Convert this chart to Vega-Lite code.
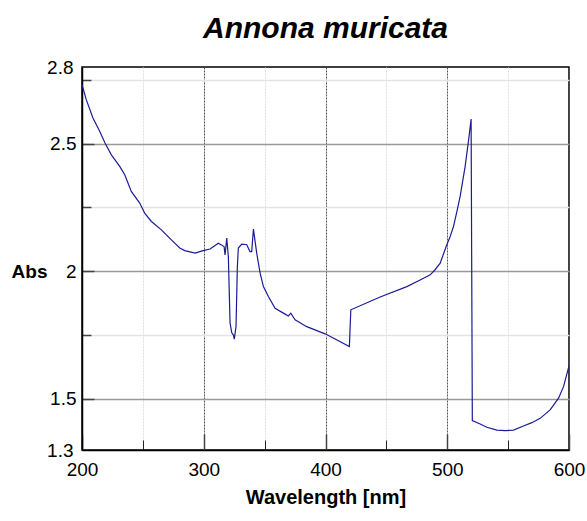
{
  "$schema": "https://vega.github.io/schema/vega-lite/v6.json",
  "autosize": "none",
  "width": 487,
  "height": 383,
  "padding": {"left": 82, "top": 67, "right": 18, "bottom": 71},
  "background": "white",
  "title": {"text": "Annona muricata", "font": "Liberation Sans", "fontSize": 30, "fontWeight": "bold", "fontStyle": "italic", "color": "black", "offset": 14, "anchor": "middle"},
  "config": {"view": {"stroke": "black", "strokeWidth": 1.5}},
  "data": {"values": [
    {"wl": 200, "abs": 2.731}, {"wl": 203.5, "abs": 2.672}, {"wl": 209, "abs": 2.600}, {"wl": 214.5, "abs": 2.548},
    {"wl": 218.9, "abs": 2.502}, {"wl": 224.1, "abs": 2.456}, {"wl": 231, "abs": 2.411}, {"wl": 235.1, "abs": 2.378},
    {"wl": 240.5, "abs": 2.313}, {"wl": 247.4, "abs": 2.267}, {"wl": 251.5, "abs": 2.228}, {"wl": 257, "abs": 2.195},
    {"wl": 265.2, "abs": 2.162}, {"wl": 273.4, "abs": 2.123}, {"wl": 280.3, "abs": 2.091}, {"wl": 284.4, "abs": 2.081},
    {"wl": 292.9, "abs": 2.071}, {"wl": 299.4, "abs": 2.081}, {"wl": 305.2, "abs": 2.087}, {"wl": 312, "abs": 2.110},
    {"wl": 316.7, "abs": 2.097}, {"wl": 317.5, "abs": 2.064}, {"wl": 318.9, "abs": 2.130}, {"wl": 320.2, "abs": 2.058},
    {"wl": 321.6, "abs": 1.798}, {"wl": 323, "abs": 1.759}, {"wl": 324.3, "abs": 1.751}, {"wl": 325.1, "abs": 1.734},
    {"wl": 326.5, "abs": 1.783}, {"wl": 327.6, "abs": 2.018}, {"wl": 328.4, "abs": 2.091}, {"wl": 331.2, "abs": 2.106},
    {"wl": 335.3, "abs": 2.104}, {"wl": 338, "abs": 2.077}, {"wl": 339.4, "abs": 2.077}, {"wl": 340.8, "abs": 2.165},
    {"wl": 343.5, "abs": 2.071}, {"wl": 346.3, "abs": 1.993}, {"wl": 349, "abs": 1.940}, {"wl": 353.1, "abs": 1.901},
    {"wl": 358.6, "abs": 1.855}, {"wl": 365.4, "abs": 1.836}, {"wl": 369.5, "abs": 1.825}, {"wl": 371.5, "abs": 1.836},
    {"wl": 375, "abs": 1.810}, {"wl": 384.6, "abs": 1.783}, {"wl": 399.7, "abs": 1.755}, {"wl": 419.6, "abs": 1.705},
    {"wl": 420.8, "abs": 1.849}, {"wl": 444.9, "abs": 1.899}, {"wl": 466.8, "abs": 1.940}, {"wl": 477.7, "abs": 1.966},
    {"wl": 486, "abs": 1.986}, {"wl": 490, "abs": 2.006}, {"wl": 494.2, "abs": 2.032}, {"wl": 499.1, "abs": 2.097},
    {"wl": 502.4, "abs": 2.136}, {"wl": 505.1, "abs": 2.175}, {"wl": 507.9, "abs": 2.234}, {"wl": 510.6, "abs": 2.293},
    {"wl": 514.7, "abs": 2.411}, {"wl": 517.4, "abs": 2.509}, {"wl": 519.6, "abs": 2.596}, {"wl": 520.6, "abs": 1.415},
    {"wl": 527, "abs": 1.402}, {"wl": 532.5, "abs": 1.389}, {"wl": 540.8, "abs": 1.378}, {"wl": 547.6, "abs": 1.376},
    {"wl": 554.4, "abs": 1.378}, {"wl": 562.6, "abs": 1.394}, {"wl": 569.5, "abs": 1.407}, {"wl": 576.3, "abs": 1.424},
    {"wl": 584.5, "abs": 1.457}, {"wl": 591.4, "abs": 1.503}, {"wl": 595.5, "abs": 1.548}, {"wl": 600, "abs": 1.629}
  ]},
  "mark": {"type": "line", "color": "#1c1c96", "strokeWidth": 1.2, "clip": true},
  "encoding": {
    "x": {
      "field": "wl", "type": "quantitative",
      "scale": {"domain": [200, 600], "nice": false, "zero": false},
      "axis": {
        "title": "Wavelength [nm]",
        "titleFont": "Liberation Sans", "titleFontSize": 20, "titleFontWeight": "bold", "titleColor": "black", "titlePadding": 8,
        "values": [200, 250, 300, 350, 400, 450, 500, 550, 600],
        "labelExpr": "datum.value % 100 === 0 ? datum.label : ''",
        "labelFont": "Liberation Sans", "labelFontSize": 19, "labelColor": "black", "labelPadding": 26, "labelFlush": false,
        "domainColor": "black", "domainWidth": 1.5,
        "tickSize": {"condition": {"test": "datum.value % 100 === 0", "value": -16}, "value": -10},
        "tickColor": {"condition": {"test": "datum.value % 100 === 0", "value": "#444"}, "value": "#222"},
        "tickWidth": {"condition": {"test": "datum.value % 100 === 0", "value": 1.5}, "value": 1},
        "grid": true,
        "gridColor": {"condition": {"test": "datum.value % 100 === 0", "value": "#555"}, "value": "#e0e0e0"},
        "gridDash": [2, 1],
        "gridWidth": 1
      }
    },
    "y": {
      "field": "abs", "type": "quantitative",
      "scale": {"domain": [1.3, 2.8], "nice": false, "zero": false},
      "axis": {
        "title": "Abs",
        "titleAngle": 0, "titleAlign": "right", "titleBaseline": "middle", "titleX": -35, "titleY": 204,
        "titleFont": "Liberation Sans", "titleFontSize": 19, "titleFontWeight": "bold", "titleColor": "black",
        "values": [1.3, 1.5, 1.75, 2, 2.25, 2.5, 2.75, 2.8],
        "format": ".2~f",
        "labelExpr": "(datum.value === 1.75 || datum.value === 2.25 || datum.value === 2.75) ? '' : datum.label",
        "labelFont": "Liberation Sans", "labelFontSize": 19, "labelColor": "black", "labelPadding": 18, "labelFlush": false,
        "domainColor": "black", "domainWidth": 1.5,
        "tickSize": {"condition": {"test": "datum.value === 1.5 || datum.value === 2 || datum.value === 2.5", "value": -12}, "value": -9},
        "tickColor": "#444", "tickWidth": 1.5,
        "tickOpacity": {"condition": {"test": "datum.value === 1.3 || datum.value === 2.8", "value": 0}, "value": 1},
        "grid": true,
        "gridColor": {"condition": {"test": "datum.value === 1.5 || datum.value === 2 || datum.value === 2.5", "value": "#999"}, "value": "#e3e3e3"},
        "gridWidth": 1.5,
        "gridOpacity": {"condition": {"test": "datum.value === 1.3 || datum.value === 2.8", "value": 0}, "value": 1}
      }
    }
  }
}
